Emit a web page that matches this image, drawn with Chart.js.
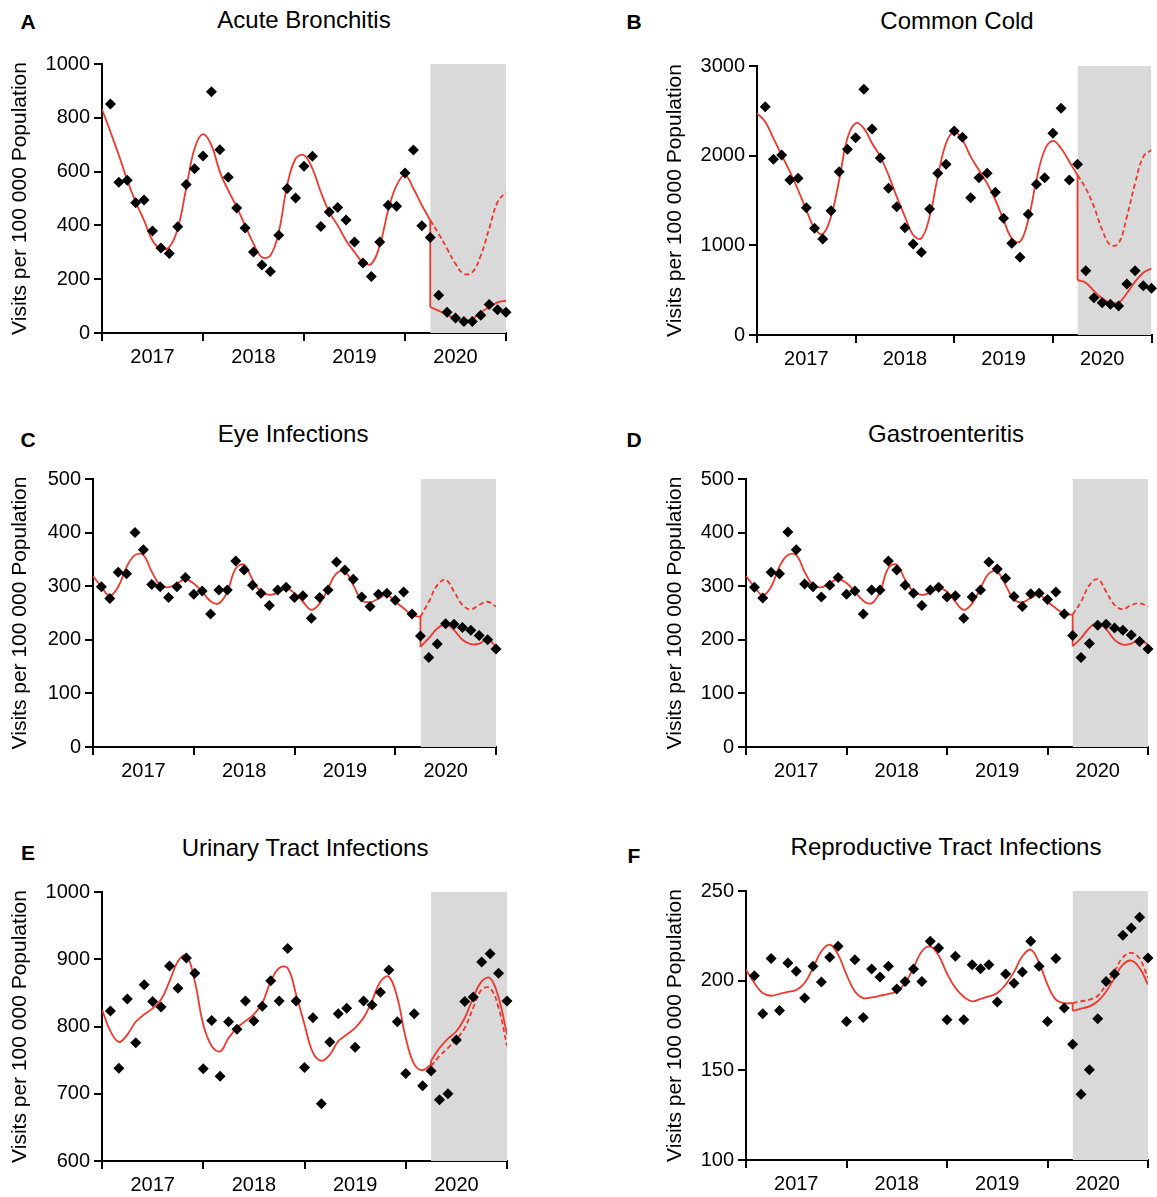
<!DOCTYPE html>
<html lang="en">
<head>
    <meta charset="UTF-8">
    <title>Visits per 100 000 Population</title>
    <style>
        body {
            margin: 0;
            background: #fff;
            font-family: "Liberation Sans", Arial, sans-serif;
            color: #000;
        }
        #page {
            position: relative;
            width: 1157px;
            height: 1197px;
            overflow: hidden;
        }
        .panel {
            position: absolute;
        }
        .letter, .title {
            position: absolute;
            transform: translate(-50%, -50%);
            white-space: nowrap;
        }
        .letter {
            font-weight: bold;
            font-size: 21px;
        }
        .title {
            font-size: 24px;
        }
    </style>
    <script src="https://cdn.jsdelivr.net/npm/chart.js"></script>
</head>
<body>
<div id="page"></div>

<script>
    const yearLabels = ['2017', '2018', '2019', '2020'];
    const shadeMonths = [39, 48];

    // observed = months 1..48, trend = fitted months 0..39,
    // after = fitted months 39..48, expected = counterfactual months 39..48

    // Acute Bronchitis
    const bronchitisObserved = [851, 560, 568, 484, 494, 379, 316, 296, 395, 552, 611, 658,
        897, 681, 579, 465, 390, 301, 253, 229, 363, 537, 502, 620,
        657, 396, 450, 467, 420, 338, 260, 210, 338, 475, 471, 595,
        680, 399, 355, 140, 77, 56, 43, 43, 66, 106, 86, 77];
    const bronchitisTrend = [832, 748, 661, 568, 487, 419, 344, 313, 319, 388,
        537, 686, 739, 698, 599, 530, 468, 400, 332, 282,
        288, 375, 549, 648, 661, 611, 524, 450, 400, 344,
        301, 263, 257, 325, 456, 549, 586, 537, 475, 419];
    const bronchitisAfter = [96, 83, 67, 55, 46, 52, 77, 96, 114, 120];
    const bronchitisExpected = [419, 369, 313, 257, 220, 226, 288, 388, 487, 524];

    // Common Cold
    const coldObserved = [2546, 1959, 2007, 1729, 1747, 1420, 1190, 1071, 1387, 1822, 2071, 2201,
        2740, 2297, 1974, 1636, 1431, 1197, 1015, 922, 1405, 1803, 1903, 2275,
        2204, 1532, 1755, 1803, 1591, 1301, 1022, 866, 1346, 1680, 1755, 2249,
        2528, 1729, 1903, 717, 416, 361, 342, 323, 569, 717, 550, 520];
    const coldTrend = [2472, 2379, 2193, 2007, 1822, 1617, 1394, 1190, 1126, 1320,
        1729, 2193, 2361, 2305, 2138, 1989, 1784, 1543, 1320, 1115,
        1078, 1320, 1766, 2138, 2268, 2175, 1989, 1840, 1691, 1506,
        1283, 1078, 1041, 1283, 1729, 2063, 2164, 2082, 1933, 1784];
    const coldAfter = [613, 584, 491, 409, 361, 361, 465, 595, 695, 743];
    const coldExpected = [1784, 1636, 1431, 1171, 1004, 1022, 1320, 1691, 1989, 2063];

    // Eye Infections
    const eyeObserved = [299, 277, 326, 323, 400, 368, 303, 299, 279, 299, 316, 285,
        291, 248, 293, 293, 347, 330, 302, 287, 264, 293, 298, 279,
        282, 240, 279, 293, 345, 330, 313, 280, 262, 285, 287, 274,
        289, 248, 207, 167, 192, 230, 229, 223, 218, 208, 200, 183];
    const eyeTrend = [319, 299, 282, 299, 336, 358, 358, 327, 302, 298,
        305, 313, 305, 290, 272, 268, 290, 333, 340, 312,
        290, 284, 288, 296, 287, 271, 256, 268, 296, 324,
        327, 302, 274, 270, 277, 284, 271, 259, 246, 243];
    const eyeAfter = [187, 203, 221, 229, 218, 200, 192, 193, 201, 187];
    const eyeExpected = [243, 271, 302, 312, 290, 265, 257, 265, 271, 262];

    // Gastroenteritis
    const gastroObserved = [298, 278, 326, 323, 401, 368, 304, 299, 280, 302, 316, 285,
        291, 248, 293, 293, 347, 330, 302, 287, 264, 293, 298, 280,
        282, 240, 280, 293, 345, 332, 315, 281, 262, 286, 287, 275,
        289, 248, 208, 167, 193, 227, 229, 222, 218, 209, 197, 183];
    const gastroTrend = [319, 299, 283, 299, 337, 358, 358, 327, 302, 298,
        306, 313, 306, 290, 273, 268, 290, 334, 340, 312,
        290, 284, 288, 296, 290, 271, 256, 268, 296, 324,
        327, 302, 275, 270, 278, 284, 271, 259, 248, 247];
    const gastroAfter = [188, 203, 222, 231, 220, 200, 191, 193, 200, 191];
    const gastroExpected = [247, 271, 302, 313, 290, 265, 257, 265, 268, 262];

    // Urinary Tract Infections
    const urinaryObserved = [823, 738, 841, 776, 862, 837, 829, 890, 857, 902, 879, 737,
        809, 726, 807, 796, 838, 808, 830, 868, 838, 916, 838, 739,
        813, 685, 777, 819, 827, 769, 838, 832, 851, 884, 807, 730,
        819, 712, 734, 691, 700, 780, 837, 844, 896, 908, 879, 838];
    const urinaryTrend = [825, 793, 777, 788, 807, 818, 827, 840, 867, 897,
        906, 867, 803, 771, 763, 783, 798, 808, 818, 835,
        867, 887, 887, 848, 803, 761, 749, 758, 778, 788,
        798, 813, 838, 867, 874, 843, 783, 744, 735, 744];
    const urinaryAfter = [749, 768, 782, 793, 813, 843, 867, 872, 843, 788];
    const urinaryExpected = [741, 756, 768, 781, 798, 828, 855, 857, 828, 771];

    // Reproductive Tract Infections
    const reproObserved = [202.8, 181.6, 212.3, 183.4, 209.9, 205.2, 190.3, 208.0, 199.3, 213.0, 219.2, 177.3,
        211.7, 179.5, 206.5, 202.0, 208.0, 195.3, 199.6, 206.5, 199.6, 222.0, 218.2, 178.2,
        213.6, 178.2, 208.9, 206.7, 208.9, 188.1, 203.7, 198.5, 204.8, 222.0, 208.0, 177.3,
        212.3, 184.7, 164.6, 136.7, 150.3, 178.8, 199.6, 203.7, 225.3, 229.4, 235.4, 212.7];
    const reproTrend = [206.1, 198.7, 193.1, 191.6, 192.7, 193.7, 194.8, 198.7, 207.1, 216.4,
        220.1, 214.5, 203.4, 194.0, 190.3, 190.7, 191.6, 192.6, 194.0, 198.7,
        207.1, 216.4, 219.0, 214.0, 204.0, 196.0, 191.0, 188.5, 189.8, 191.2,
        193.1, 197.8, 204.8, 213.6, 217.3, 209.9, 197.8, 189.4, 187.5, 187.5];
    const reproAfter = [183.2, 184.4, 185.7, 188.5, 194.0, 201.5, 208.9, 211.2, 207.1, 197.8];
    const reproExpected = [187.5, 188.5, 189.4, 191.6, 197.8, 205.2, 213.0, 215.5, 212.3, 201.5];

    // panel layout: area = [left, top, right, bottom] of the plot box on the page
    const panels = [
        { letter: 'A', title: 'Acute Bronchitis', observed: bronchitisObserved, trend: bronchitisTrend,
          after: bronchitisAfter, expected: bronchitisExpected, yMin: 0, yMax: 1000, yStep: 200,
          area: [102, 64, 506, 333], left: 0, titleX: 304, titleY: 20, letterX: 28, letterY: 22 },
        { letter: 'B', title: 'Common Cold', observed: coldObserved, trend: coldTrend,
          after: coldAfter, expected: coldExpected, yMin: 0, yMax: 3000, yStep: 1000,
          area: [757, 66, 1157, 335], left: 655, titleX: 957, titleY: 21, letterX: 634, letterY: 22 },
        { letter: 'C', title: 'Eye Infections', observed: eyeObserved, trend: eyeTrend,
          after: eyeAfter, expected: eyeExpected, yMin: 0, yMax: 500, yStep: 100,
          area: [93, 479, 496, 747], left: 0, titleX: 293, titleY: 434, letterX: 28, letterY: 440 },
        { letter: 'D', title: 'Gastroenteritis', observed: gastroObserved, trend: gastroTrend,
          after: gastroAfter, expected: gastroExpected, yMin: 0, yMax: 500, yStep: 100,
          area: [746, 479, 1148, 747], left: 655, titleX: 946, titleY: 434, letterX: 634, letterY: 440 },
        { letter: 'E', title: 'Urinary Tract Infections', observed: urinaryObserved, trend: urinaryTrend,
          after: urinaryAfter, expected: urinaryExpected, yMin: 600, yMax: 1000, yStep: 100,
          area: [102, 892, 507, 1161], left: 0, titleX: 305, titleY: 848, letterX: 28, letterY: 853 },
        { letter: 'F', title: 'Reproductive Tract Infections', observed: reproObserved, trend: reproTrend,
          after: reproAfter, expected: reproExpected, yMin: 100, yMax: 250, yStep: 50,
          area: [746, 891, 1148, 1160], left: 655, titleX: 946, titleY: 847, letterX: 634, letterY: 856 }
    ];

    const RED = 'rgb(238, 56, 44)';
    const PAD_TOP = 20;
    const X_AXIS_H = 38;
    const FONT = '"Liberation Sans", Arial, sans-serif';

    Chart.defaults.font.family = FONT;
    Chart.defaults.color = '#000';

    function addText(cls, text, x, y) {
        const el = document.createElement('div');
        el.className = cls;
        el.textContent = text;
        el.style.left = x + 'px';
        el.style.top = y + 'px';
        document.getElementById('page').appendChild(el);
    }

    function drawPanel(p) {
        const [l, t, r, b] = p.area;
        const padRight = Math.min(14, 1157 - r);
        const box = document.createElement('div');
        box.className = 'panel';
        box.style.left = p.left + 'px';
        box.style.top = (t - PAD_TOP) + 'px';
        box.style.width = (r + padRight - p.left) + 'px';
        box.style.height = (b - t + PAD_TOP + X_AXIS_H) + 'px';
        const canvas = document.createElement('canvas');
        box.appendChild(canvas);
        document.getElementById('page').appendChild(box);

        addText('letter', p.letter, p.letterX, p.letterY);
        addText('title', p.title, p.titleX, p.titleY);

        const observed = p.observed.map((v, i) => ({ x: i + 1, y: v }));
        const trend = p.trend.map((v, i) => ({ x: i, y: v }));
        const after = p.after.map((v, i) => ({ x: shadeMonths[0] + i, y: v }));
        const expected = p.expected.map((v, i) => ({ x: shadeMonths[0] + i, y: v }));
        const drop = [trend[trend.length - 1], after[0]];
        const shade = shadeMonths.map(m => ({ x: m, y: p.yMax }));

        const lineStyle = {
            borderColor: RED,
            borderWidth: 1.8,
            pointRadius: 0,
            fill: false,
            tension: 0.4
        };

        new Chart(canvas, {
            type: 'line',
            data: {
                datasets: [
                    { data: observed, showLine: false, pointStyle: 'rectRot', pointRadius: 5.5,
                      pointBackgroundColor: '#000', pointBorderWidth: 0, clip: false },
                    Object.assign({ data: trend }, lineStyle),
                    Object.assign({ data: drop }, lineStyle, { tension: 0 }),
                    Object.assign({ data: after }, lineStyle),
                    Object.assign({ data: expected, borderDash: [5, 3] }, lineStyle),
                    { data: shade, fill: 'start', backgroundColor: '#d9d9d9', borderWidth: 0, pointRadius: 0 }
                ]
            },
            options: {
                responsive: true,
                maintainAspectRatio: false,
                animation: false,
                events: [],
                layout: { padding: { top: PAD_TOP, right: padRight, left: 0, bottom: 0 } },
                plugins: { legend: { display: false }, tooltip: { enabled: false } },
                scales: {
                    x: {
                        type: 'linear',
                        min: 0,
                        max: 48,
                        z: 1,
                        ticks: {
                            stepSize: 6,
                            autoSkip: false,
                            maxRotation: 0,
                            padding: 4,
                            color: '#000',
                            font: { size: 20 },
                            callback: v => (v % 12 === 6 ? yearLabels[(v - 6) / 12] : '')
                        },
                        grid: {
                            drawOnChartArea: false,
                            tickLength: 8,
                            lineWidth: 2,
                            color: ctx => (ctx.tick && ctx.tick.value % 12 === 0 ? '#000' : 'rgba(0,0,0,0)')
                        },
                        border: { color: '#000', width: 2 },
                        afterFit: s => { s.height = X_AXIS_H; }
                    },
                    y: {
                        min: p.yMin,
                        max: p.yMax,
                        z: 1,
                        ticks: {
                            stepSize: p.yStep,
                            padding: 4,
                            color: '#000',
                            font: { size: 20 },
                            callback: v => String(v)
                        },
                        grid: { drawOnChartArea: false, tickLength: 8, lineWidth: 2, color: '#000' },
                        border: { color: '#000', width: 2 },
                        title: {
                            display: true,
                            text: 'Visits per 100 000 Population',
                            color: '#000',
                            font: { size: 21 },
                            padding: { top: 8, bottom: 0 }
                        },
                        afterFit: s => { s.width = l - p.left; }
                    }
                }
            }
        });
    }

    panels.forEach(drawPanel);
</script>
</body>
</html>
